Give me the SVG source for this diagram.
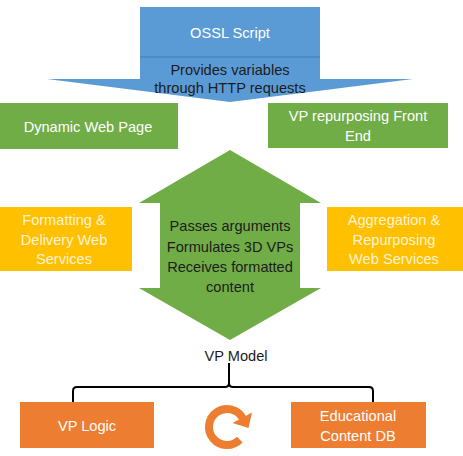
<svg xmlns="http://www.w3.org/2000/svg" width="463" height="456" viewBox="0 0 463 456">
<style>
text{font-family:"Liberation Sans",Arial,sans-serif;font-size:14.6px;text-anchor:middle}
.w{fill:#ffffff}
.d{fill:#1c1c1c}
.y{fill:#fff3d6}
.blue{fill:#5b9bd5}
.green{fill:#70ad47}
.yel{fill:#ffc000}
.org{fill:#ed7d31}
</style>
<rect width="463" height="456" fill="#ffffff"/>
<g id="ossl">
<polygon class="blue" points="140,7 320,7 320,79 413,79 230,102 47,79 140,79"/>
<line x1="140" y1="57" x2="320" y2="57" stroke="#4a86bd" stroke-width="1.5"/>
<text class="w" x="230" y="38">OSSL Script</text>
<text class="d" x="230" y="75">Provides variables</text>
<text class="d" x="230" y="93">through HTTP requests</text>
</g>
<g id="dynamic-web-page">
<rect class="green" x="0" y="103" width="178" height="46"/>
<text class="w" x="88" y="132">Dynamic Web Page</text>
</g>
<g id="vp-front-end">
<rect class="green" x="268" y="103" width="180" height="45"/>
<text class="w" x="358" y="121">VP repurposing Front</text>
<text class="w" x="358" y="141">End</text>
</g>
<g id="formatting">
<rect class="yel" x="0" y="207" width="132" height="64"/>
<text class="y" x="64" y="225">Formatting &amp;</text>
<text class="y" x="64" y="245">Delivery Web</text>
<text class="y" x="64" y="264">Services</text>
</g>
<g id="aggregation">
<rect class="yel" x="327" y="207" width="136" height="64"/>
<text class="y" x="394" y="225">Aggregation &amp;</text>
<text class="y" x="394" y="245">Repurposing</text>
<text class="y" x="394" y="264">Web Services</text>
</g>
<g id="passes">
<polygon class="green" points="230,150 321,203 300,203 300,288 321,288 230,340 139,288 160,288 160,203 139,203"/>
<text class="d" x="230" y="231">Passes arguments</text>
<text class="d" x="230" y="252">Formulates 3D VPs</text>
<text class="d" x="230" y="272">Receives formatted</text>
<text class="d" x="230" y="292">content</text>
</g>
<g id="vp-model">
<text class="d" x="236" y="361">VP Model</text>
</g>
<g id="connectors" fill="none" stroke="#000000" stroke-width="2">
<path d="M229,363 L229,383 Q229,387 225,387 L77,387 Q73,387 73,391 L73,402"/>
<path d="M229,383 Q229,387 233,387 L369,387 Q373,387 373,391 L373,402"/>
</g>
<g id="vp-logic">
<rect class="org" x="20" y="402" width="134" height="46"/>
<text class="w" x="87" y="431">VP Logic</text>
</g>
<g id="cycle">
<path d="M239.8,439.6 A18,18 0 1 1 242.6,418" fill="none" stroke="#ed7d31" stroke-width="8"/>
<polygon class="org" points="232.5,423 252,412.5 248.5,428"/>
</g>
<g id="educational-db">
<rect class="org" x="291" y="402" width="135" height="46"/>
<text class="w" x="358" y="421">Educational</text>
<text class="w" x="358" y="441">Content DB</text>
</g>
</svg>
